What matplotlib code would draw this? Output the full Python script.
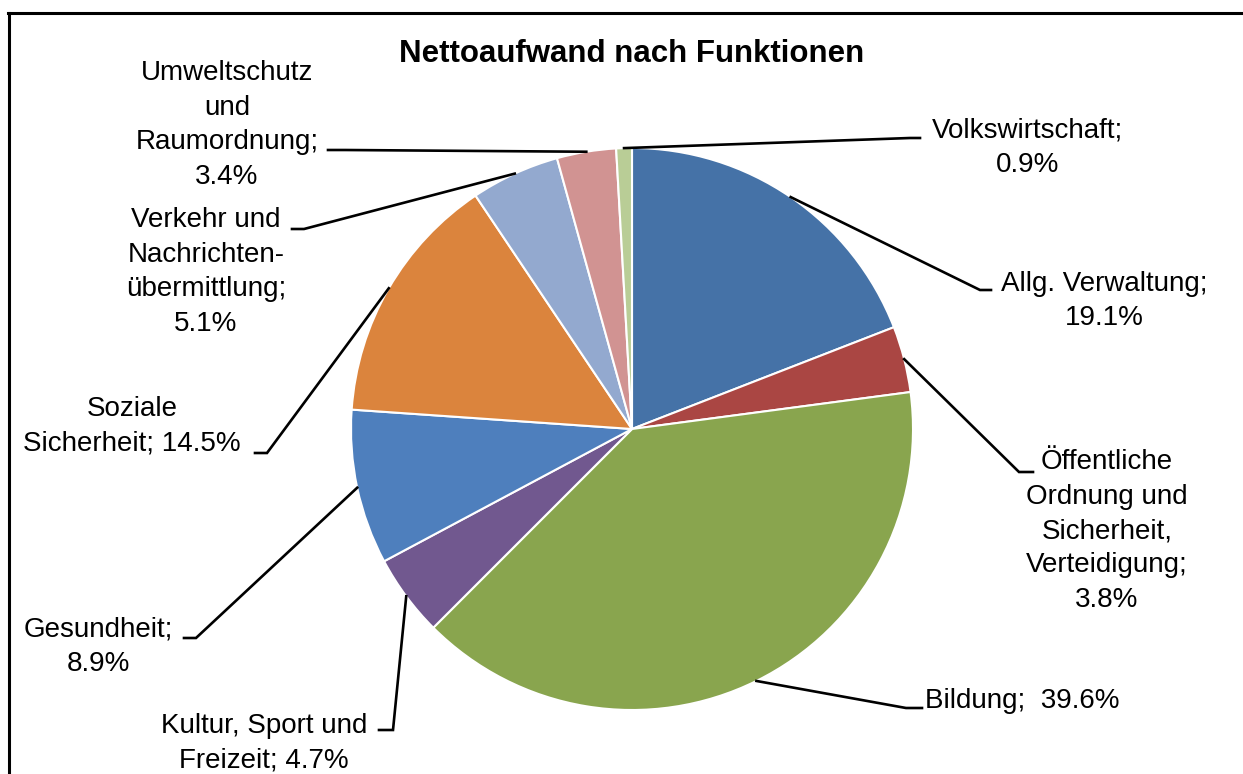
import matplotlib

matplotlib.use("Agg")
import matplotlib.pyplot as plt
from matplotlib.lines import Line2D
import numpy as np

# data, clockwise from 12 o'clock
categories = [
    "Allg. Verwaltung",
    "Öffentliche\nOrdnung und\nSicherheit,\nVerteidigung",
    "Bildung",
    "Kultur, Sport und\nFreizeit",
    "Gesundheit",
    "Soziale\nSicherheit",
    "Verkehr und\nNachrichten-\nübermittlung",
    "Umweltschutz\nund\nRaumordnung",
    "Volkswirtschaft",
]
shares = [19.1, 3.8, 39.6, 4.7, 8.9, 14.5, 5.1, 3.4, 0.9]
separators = ["\n", "\n", "  ", " ", "\n", " ", "\n", "\n", "\n"]
colors = [
    "#4572A7", "#AA4643", "#89A54E", "#71588F", "#4E7FBD",
    "#DB843D", "#93A9CF", "#D19392", "#B9CD96",
]

W, H = 1243, 774
CENTER = (632, 429)
RADIUS = 281

# layout in pixel coords (y down): elbow, line end, label centre
label_layout = [
    ((980, 290), (991, 290), (1104, 301)),
    ((1019, 472), (1033, 472), (1107, 531)),
    ((906, 708), (922, 708), (1022, 701)),
    ((393, 730), (379, 730), (264, 743)),
    ((196, 638), (184, 638), (98, 647)),
    ((267, 453), (255, 453), (132, 426)),
    ((304, 229), (292, 229), (206, 272)),
    ((345, 150), (328, 150), (227, 125)),
    ((910, 138), (920, 138), (1028, 148)),
]


def px(x, y):
    return x, H - y


plt.rcParams["font.family"] = ["Liberation Sans", "DejaVu Sans"]

fig = plt.figure(figsize=(W / 100, H / 100), dpi=100)
ax = fig.add_axes([0, 0, 1, 1])

wedges, _ = ax.pie(
    shares,
    colors=colors,
    startangle=90,
    counterclock=False,
    center=px(*CENTER),
    radius=RADIUS,
    wedgeprops={"edgecolor": "white", "linewidth": 1.5},
)
ax.set_xlim(0, W)
ax.set_ylim(0, H)
ax.set_aspect("equal")
ax.axis("off")

for wedge, name, value, sep, (elbow, end, pos) in zip(
    wedges, categories, shares, separators, label_layout
):
    theta = np.deg2rad((wedge.theta1 + wedge.theta2) / 2)
    cx, cy = wedge.center
    x0 = cx + wedge.r * np.cos(theta)
    y0 = cy + wedge.r * np.sin(theta)
    ex, ey = px(*elbow)
    tx, ty = px(*end)
    ax.plot([x0, ex, tx], [y0, ey, ty], color="black", lw=1.9,
            solid_joinstyle="miter")
    ax.text(*px(*pos), f"{name};{sep}{value:.1f}%", ha="center", va="center",
            multialignment="center", fontsize=20, linespacing=1.42,
            color="black")

ax.text(*px(632, 54), "Nettoaufwand nach Funktionen", ha="center",
        va="center", fontsize=22.5, fontweight="bold", color="black")

# frame (top and left edge of the original chart box)
fig.add_artist(Line2D([8 / W, 1], [1 - 12.5 / H, 1 - 12.5 / H],
                      transform=fig.transFigure, color="black", lw=2.2))
fig.add_artist(Line2D([9 / W, 9 / W], [0, 1 - 12.5 / H],
                      transform=fig.transFigure, color="black", lw=2.2))

fig.savefig("out.png", dpi=100)
